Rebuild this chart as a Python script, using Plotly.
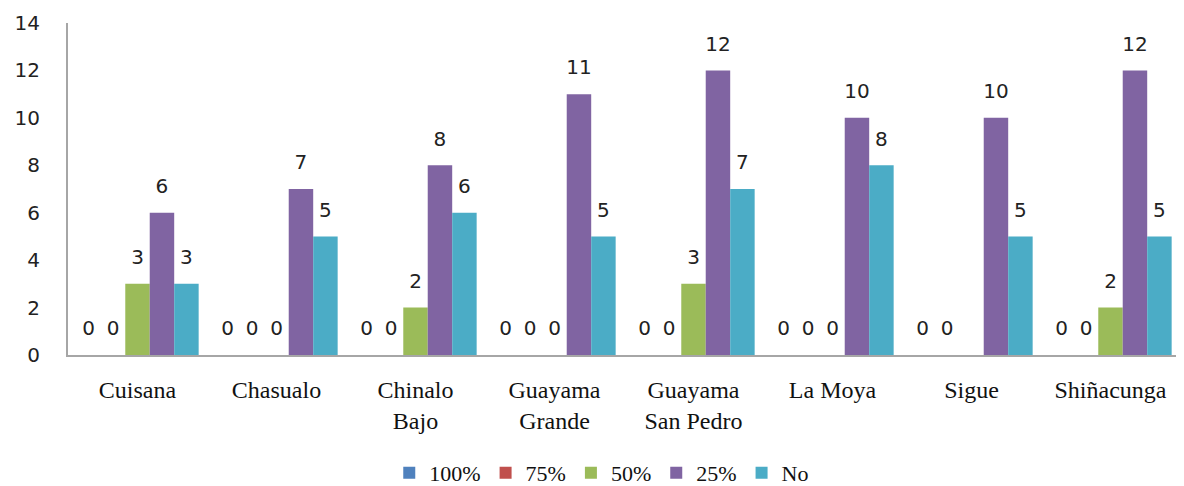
import plotly.graph_objects as go

categories = ["Cuisana", "Chasualo", "Chinalo<br>Bajo", "Guayama<br>Grande",
              "Guayama<br>San Pedro", "La Moya", "Sigue", "Shiñacunga"]
series_names = ["100%", "75%", "50%", "25%", "No"]
v100 = [0, 0, 0, 0, 0, 0, 0, 0]
v75 = [0, 0, 0, 0, 0, 0, 0, 0]
v50 = [3, 0, 2, 0, 3, 0, None, 2]
v25 = [6, 7, 8, 11, 12, 10, 10, 12]
vNo = [3, 5, 6, 5, 7, 8, 5, 5]
colors = ["#4F81BD", "#C0504D", "#9BBB59", "#8064A2", "#4BACC6"]

all_values = [v100, v75, v50, v25, vNo]
GAP = 0.12
num_font = dict(family="DejaVu Sans, sans-serif", size=20, color="#222222")
serif_font = dict(family="Liberation Serif, Times New Roman, serif", size=24, color="#111111")

fig = go.Figure()
for name, vals, col in zip(series_names, all_values, colors):
    fig.add_trace(go.Bar(
        x=categories, y=vals, name=name, marker=dict(color=col, line=dict(width=0)),
        offsetgroup=name, hoverinfo="skip"))
for name, vals in zip(series_names, all_values):
    fig.add_trace(go.Scatter(
        x=categories, y=vals, mode="markers+text", offsetgroup=name,
        text=["" if v is None else str(v) for v in vals],
        textposition="top center", textfont=num_font,
        marker=dict(size=22, opacity=0), showlegend=False, hoverinfo="skip",
        cliponaxis=False))

fig.update_layout(
    width=1176, height=478,
    margin=dict(l=60, r=4, t=15, b=131, autoexpand=False),
    paper_bgcolor="white", plot_bgcolor="white",
    barmode="group", bargap=GAP, bargroupgap=0,
    scattermode="group", scattergap=GAP,
    showlegend=True,
    legend=dict(orientation="h", x=0.48, xanchor="center", y=-0.355, yanchor="middle",
                font=dict(family="Liberation Serif, Times New Roman, serif", size=22, color="#111111"),
                itemwidth=30, traceorder="normal"),
)
fig.update_xaxes(showline=True, linecolor="#A6A6A6", linewidth=2, showgrid=False,
                 ticks="", tickfont=serif_font, ticklabelstandoff=12, automargin=False)
fig.update_yaxes(range=[0, 14], dtick=2, showline=True, linecolor="#A6A6A6", linewidth=2,
                 showgrid=False, zeroline=False, ticks="", tickfont=num_font,
                 ticklabelstandoff=22, automargin=False)

fig.write_html("out.html")
